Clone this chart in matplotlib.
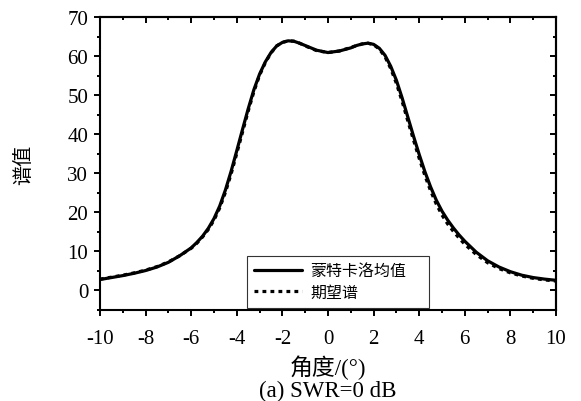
import matplotlib
matplotlib.use("Agg")
import matplotlib.pyplot as plt
from matplotlib.ticker import MultipleLocator

plt.rcParams['font.family'] = ['Liberation Serif', 'Noto Sans CJK SC']
plt.rcParams['axes.unicode_minus'] = False

# Angle grid (degrees)
angle = [-10, -9.5, -9, -8.5, -8, -7.5, -7, -6.5, -6,
         -5.75, -5.5, -5.25, -5, -4.75, -4.5, -4.25, -4, -3.75, -3.5,
         -3.25, -3, -2.75, -2.5, -2.25, -2, -1.75, -1.5, -1.25,
         -1, -0.5, 0, 0.5, 1,
         1.25, 1.5, 1.75, 2, 2.25, 2.5, 2.75, 3, 3.25, 3.5,
         3.75, 4, 4.25, 4.5, 4.75, 5, 5.25, 5.5, 5.75,
         6, 6.5, 7, 7.5, 8, 8.5, 9, 9.5, 10]

# Monte Carlo mean spectrum
monte_carlo_mean = [2.8, 3.3, 3.8, 4.4, 5.1, 6.0, 7.2, 8.9, 10.9,
                    12.3, 13.9, 15.9, 18.4, 21.6, 25.7, 30.5, 35.8, 41.2, 46.5,
                    51.4, 55.4, 58.5, 60.9, 62.6, 63.5, 63.9, 63.8, 63.3,
                    62.7, 61.5, 60.9, 61.3, 62.1,
                    62.7, 63.1, 63.3, 63.0, 62.0, 60.2, 57.4, 53.8, 49.3, 44.4,
                    39.5, 34.8, 30.4, 26.5, 23.1, 20.3, 18.0, 16.0, 14.2,
                    12.6, 9.8, 7.6, 6.0, 4.8, 3.9, 3.3, 2.9, 2.6]

# Expected spectrum
expected_spectrum = [2.9, 3.4, 3.9, 4.5, 5.2, 6.1, 7.3, 8.9, 10.8,
                     12.1, 13.7, 15.6, 18.0, 21.1, 25.1, 29.8, 35.1, 40.5, 45.9,
                     50.9, 55.1, 58.3, 60.8, 62.6, 63.5, 63.9, 63.8, 63.3,
                     62.6, 61.4, 60.9, 61.3, 62.2,
                     62.7, 63.1, 63.3, 62.9, 61.8, 59.8, 56.8, 53.0, 48.4, 43.4,
                     38.5, 33.8, 29.4, 25.5, 22.1, 19.3, 17.0, 15.1, 13.4,
                     11.8, 9.2, 7.1, 5.6, 4.5, 3.7, 3.1, 2.7, 2.4]

x_ticks = [-10, -8, -6, -4, -2, 0, 2, 4, 6, 8, 10]
y_ticks = [0, 10, 20, 30, 40, 50, 60, 70]

fig = plt.figure(figsize=(5.81, 4.02), dpi=100)
ax = fig.add_axes([0.1721, 0.2264, 0.7849, 0.7288])

ax.plot(angle, monte_carlo_mean, color='black', lw=2.3, solid_joinstyle='round',
        solid_capstyle='round', label='蒙特卡洛均值', zorder=3)
ax.plot(angle, expected_spectrum, color='black', lw=2.3, linestyle=(0, (1.2, 1.3)),
        dash_capstyle='butt', label='期望谱', zorder=2)

ax.set_xlim(-10, 10)
ax.set_ylim(-5, 70)
ax.set_xticks(x_ticks)
ax.set_yticks(y_ticks)
ax.xaxis.set_minor_locator(MultipleLocator(1))
ax.yaxis.set_minor_locator(MultipleLocator(5))

for s in ax.spines.values():
    s.set_linewidth(1.5)

ax.tick_params(which='both', direction='out', width=1.4, top=False, right=False,
               colors='black')
ax.tick_params(axis='x', which='major', length=4.5, pad=9, labelsize=15)
ax.tick_params(axis='y', which='major', length=4.5, pad=4, labelsize=15)
ax.tick_params(which='minor', length=2.5)

# Inward ticks mirrored on top and right
top = ax.secondary_xaxis('top')
top.set_xticks(x_ticks)
top.xaxis.set_minor_locator(MultipleLocator(1))
top.tick_params(which='both', direction='in', width=1.4, labeltop=False)
top.tick_params(which='major', length=4.5)
top.tick_params(which='minor', length=2.5)
top.spines['top'].set_linewidth(1.5)

right = ax.secondary_yaxis('right')
right.set_yticks(y_ticks)
right.yaxis.set_minor_locator(MultipleLocator(5))
right.tick_params(which='both', direction='in', width=1.4, labelright=False)
right.tick_params(which='major', length=4.5)
right.tick_params(which='minor', length=2.5)
right.spines['right'].set_linewidth(1.5)

ax.set_xlabel('角度/(°)', fontsize=16.5, labelpad=5)
ax.set_ylabel('谱值', fontsize=14.5, labelpad=24)

fig.text(0.5 * (0.1721 + 0.957), 0.013, '(a) SWR=0 dB', ha='center',
         va='baseline', fontsize=16.5)

leg = ax.legend(loc='lower left', bbox_to_anchor=(0.322, 0.007, 0.3995, 0.18),
                mode='expand', borderaxespad=0, fancybox=False, framealpha=1,
                edgecolor='#333333', fontsize=11.5, handlelength=3.0,
                handletextpad=0.5, labelspacing=0.35, borderpad=0.45)
leg.get_frame().set_linewidth(0.8)

fig.savefig('out.png', dpi=100)
